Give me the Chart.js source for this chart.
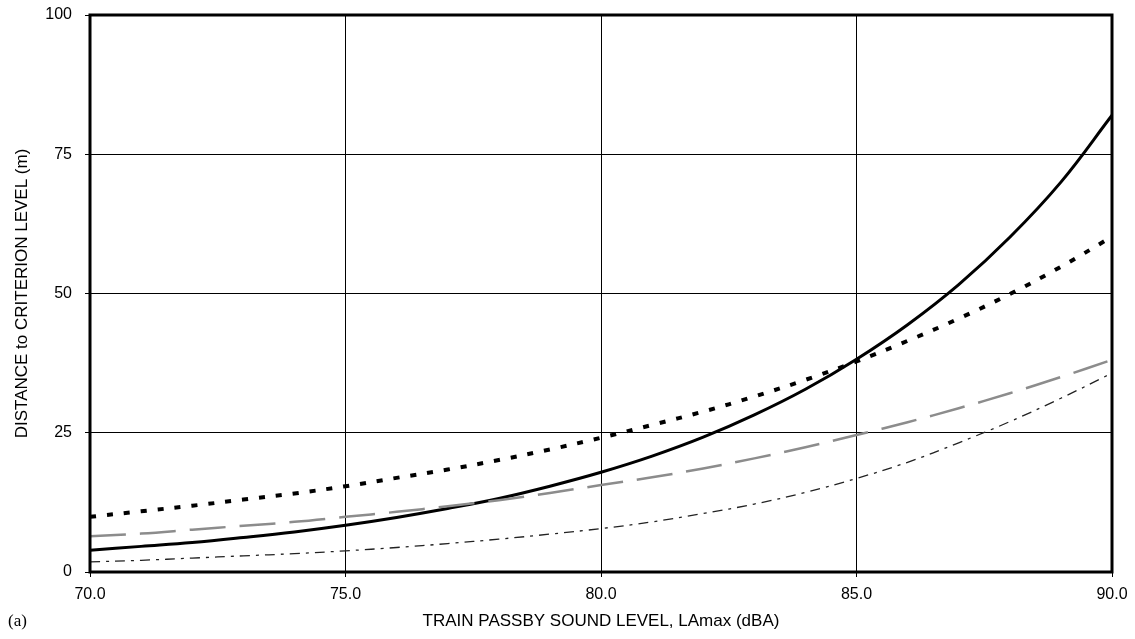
<!DOCTYPE html>
<html>
<head>
<meta charset="utf-8">
<script src="https://cdn.jsdelivr.net/npm/chart.js@4.4.1/dist/chart.umd.min.js"></script>
<style>
    html, body { margin: 0; padding: 0; background: #fff; }
    #wrap { position: relative; width: 1135px; height: 639px; }
    #panel { position: absolute; left: 8px; top: 611px; font: 17px "Liberation Serif", "DejaVu Serif", serif; color: #000; }
</style>
</head>
<body>
<div id="wrap">
    <canvas id="chart" width="1135" height="639"></canvas>
    <div id="panel">(a)</div>
</div>
<script>
// sound level (dBA)
const levels = [70, 71, 72, 73, 74, 75, 76, 77, 78, 79, 80, 81, 82, 83, 84, 85, 86, 87, 88, 89, 90]

// distance to criterion level (m)
const solidLine = [3.9, 4.6, 5.3, 6.2, 7.2, 8.4, 9.8, 11.4, 13.2, 15.4, 17.9, 20.8, 24.2, 28.2, 32.8, 38.2, 44.4, 51.6, 60.1, 70.0, 82.0]
const shortDash = [9.9, 10.9, 11.9, 13.0, 14.1, 15.4, 16.9, 18.4, 20.1, 22.0, 24.1, 26.4, 28.8, 31.5, 34.5, 37.8, 41.5, 45.5, 49.9, 54.8, 60.2]
const grayDash = [6.4, 6.9, 7.6, 8.3, 9.0, 9.9, 10.8, 11.8, 12.9, 14.2, 15.6, 17.0, 18.6, 20.4, 22.4, 24.6, 26.9, 29.4, 32.1, 35.0, 38.1]
const dashDot = [1.8, 2.1, 2.5, 2.9, 3.3, 3.8, 4.4, 5.1, 5.9, 6.8, 7.8, 9.0, 10.5, 12.2, 14.3, 16.8, 19.7, 23.2, 27.0, 31.2, 35.7]

const xTicks = [70, 75, 80, 85, 90]
const yTicks = [0, 25, 50, 75, 100]

const toPoints = arr => arr.map((v, i) => ({ x: levels[i], y: v }))

const frame = {
    id: "frame",
    afterDatasetsDraw: chart => {
        const { ctx, chartArea: a } = chart
        ctx.save()
        ctx.strokeStyle = "#000"
        ctx.lineWidth = 3
        ctx.strokeRect(a.left, a.top, a.right - a.left, a.bottom - a.top)
        ctx.restore()
    }
}

const tickFont = { family: "'Liberation Sans', Arial, sans-serif", size: 16 }
const titleFont = { family: "'Liberation Sans', Arial, sans-serif", size: 17 }

new Chart(document.getElementById("chart"), {
    type: "line",
    data: {
        datasets: [
            { data: toPoints(shortDash), borderColor: "#000", borderWidth: 4, borderDash: [6, 11] },
            { data: toPoints(grayDash), borderColor: "#8c8c8c", borderWidth: 2.5, borderDash: [36, 14] },
            { data: toPoints(solidLine), borderColor: "#000", borderWidth: 3 },
            { data: toPoints(dashDot), borderColor: "#222", borderWidth: 1.3, borderDash: [10, 6, 3, 6] }
        ].map(d => ({ ...d, pointRadius: 0, tension: 0.4, fill: false }))
    },
    options: {
        responsive: false,
        animation: false,
        layout: { padding: { top: 15, right: 23, left: 0, bottom: 0 } },
        plugins: { legend: { display: false }, tooltip: { enabled: false } },
        scales: {
            x: {
                type: "linear",
                min: 70,
                max: 90,
                afterBuildTicks: s => { s.ticks = xTicks.map(v => ({ value: v })) },
                afterFit: s => { s.height = 67; s.paddingLeft = 0; s.paddingRight = 0 },
                ticks: { color: "#000", font: tickFont, padding: 8, callback: v => v.toFixed(1) },
                grid: { color: "#000", lineWidth: 1, tickLength: 5 },
                border: { display: false },
                title: { display: true, text: "TRAIN PASSBY SOUND LEVEL, LAmax (dBA)", color: "#000", font: titleFont, padding: { top: 2, bottom: 7 } }
            },
            y: {
                min: 0,
                max: 100,
                afterBuildTicks: s => { s.ticks = yTicks.map(v => ({ value: v })) },
                afterFit: s => { s.width = 90; s.paddingTop = 0; s.paddingBottom = 0 },
                ticks: { color: "#000", font: tickFont, padding: 13 },
                grid: { color: "#000", lineWidth: 1, tickLength: 5 },
                border: { display: false },
                title: { display: true, text: "DISTANCE to CRITERION LEVEL (m)", color: "#000", font: titleFont, padding: { top: 12, bottom: 4 } }
            }
        }
    },
    plugins: [frame]
})
</script>
</body>
</html>
